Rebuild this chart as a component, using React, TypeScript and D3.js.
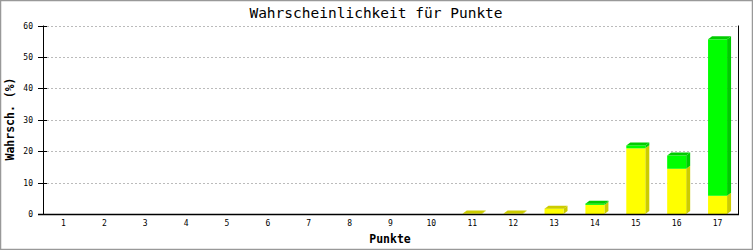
import React from "react";
import * as d3 from "d3";

const categories = ["1","2","3","4","5","6","7","8","9","10","11","12","13","14","15","16","17"];
const yellowValues = [0,0,0,0,0,0,0,0,0,0,0.15,0.15,1.7,2.9,20.9,14.4,5.8];
const greenValues = [0,0,0,0,0,0,0,0,0,0,0,0,0,0.4,0.9,4.2,49.8];
const yTicks = [0,10,20,30,40,50,60];

const W = 753, H = 250;
const left = 43, right = 738, top = 25.5, bottom = 214;
const barW = 19, dx = 4, dy = 3;
const mono = "'DejaVu Sans Mono', 'Liberation Mono', monospace";

export default function App() {
  const x = d3.scaleBand<string>().domain(categories).range([left, right]).padding(0);
  const y = d3.scaleLinear().domain([0, 60]).range([bottom, top]);
  const series = [
    { values: yellowValues, front: "#ffff00", dark: "#cccc00" },
    { values: greenValues, front: "#00ff00", dark: "#00cc00" },
  ];

  const bars: React.ReactNode[] = [];
  categories.forEach((c, i) => {
    const cx = (x(c) as number) + x.bandwidth() / 2;
    const x0 = cx - barW / 2;
    const x1 = x0 + barW;
    let base = 0;
    let topSeg: { y1: number; dark: string } | null = null;
    series.forEach((s, si) => {
      const v = s.values[i];
      if (v <= 0) return;
      const yb = y(base);
      const yt = y(base + v);
      base += v;
      bars.push(
        <polygon key={`s${i}-${si}`} fill={s.dark}
          points={`${x1},${yb} ${x1 + dx},${yb - dy} ${x1 + dx},${yt - dy} ${x1},${yt}`} />
      );
      bars.push(
        <rect key={`f${i}-${si}`} x={x0} y={yt} width={barW} height={Math.max(0, yb - yt)} fill={s.front} />
      );
      topSeg = { y1: yt, dark: s.dark };
    });
    if (topSeg) {
      const t = topSeg as { y1: number; dark: string };
      bars.push(
        <polygon key={`t${i}`} fill={t.dark}
          points={`${x0},${t.y1} ${x0 + dx},${t.y1 - dy} ${x1 + dx},${t.y1 - dy} ${x1},${t.y1}`} />
      );
    }
  });

  return (
    <svg width={W} height={H} style={{ position: "absolute", left: 0, top: 0, background: "#fff" }}>
      <rect x={0.5} y={0.5} width={W - 1} height={H - 1} fill="#fff" stroke="#999" strokeWidth={1.5} />
      <text x={376} y={18} textAnchor="middle" fontFamily={mono} fontSize={14.5} fill="#000">
        Wahrscheinlichkeit für Punkte
      </text>
      {yTicks.filter((t) => t > 0).map((t) => (
        <line key={`g${t}`} x1={left} x2={right} y1={Math.round(y(t)) + 0.5} y2={Math.round(y(t)) + 0.5}
          stroke="#bbbbbb" strokeDasharray="2,2" />
      ))}
      {bars}
      <line x1={left + 0.5} x2={left + 0.5} y1={top} y2={bottom} stroke="#000" />
      <line x1={right + 0.5} x2={right + 0.5} y1={top} y2={bottom + 1} stroke="#000" />
      <line x1={left - 5} x2={right + 1} y1={bottom + 0.5} y2={bottom + 0.5} stroke="#000" strokeWidth={1.5} />
      {yTicks.map((t) => (
        <g key={`t${t}`}>
          <line x1={left - 5} x2={left + 4} y1={Math.round(y(t)) + 0.5} y2={Math.round(y(t)) + 0.5} stroke="#000" />
          <text x={33} y={y(t) + 3} textAnchor="end" fontFamily={mono} fontSize={8} fill="#000">{t}</text>
        </g>
      ))}
      {categories.map((c) => (
        <text key={`x${c}`} x={(x(c) as number) + x.bandwidth() / 2} y={226} textAnchor="middle"
          fontFamily={mono} fontSize={8} fill="#000">{c}</text>
      ))}
      <text x={390} y={243} textAnchor="middle" fontFamily={mono} fontSize={11.5} fontWeight="bold" fill="#000">
        Punkte
      </text>
      <text transform="translate(14,119) rotate(-90)" textAnchor="middle" fontFamily={mono} fontSize={11.5}
        fontWeight="bold" fill="#000">
        Wahrsch. (%)
      </text>
    </svg>
  );
}
